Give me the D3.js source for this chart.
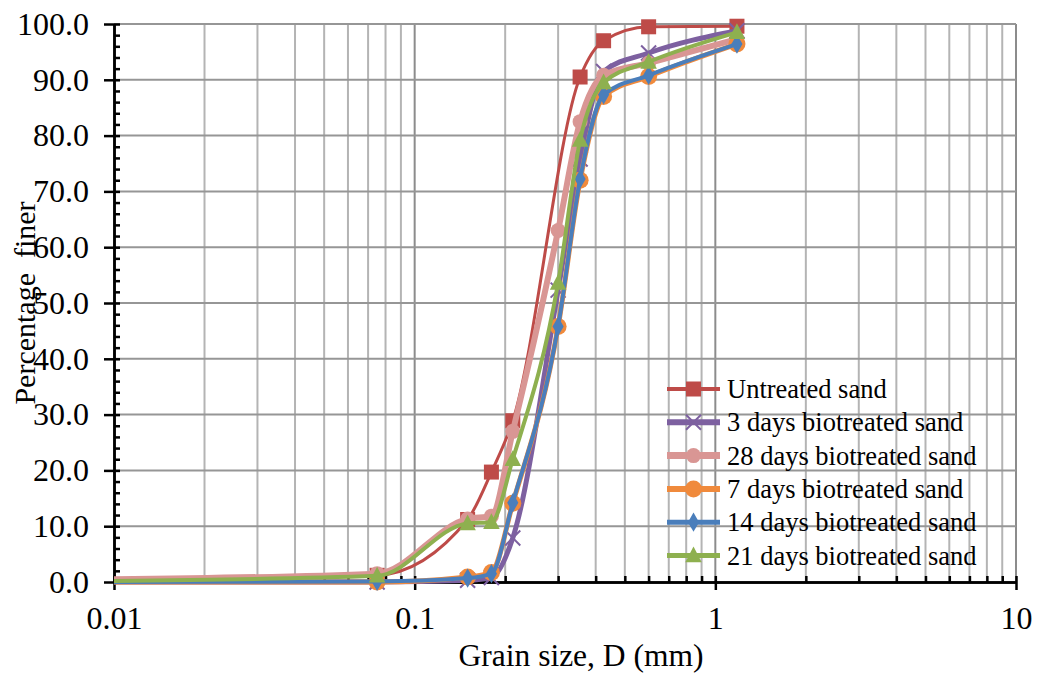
<!DOCTYPE html>
<html>
<head>
<meta charset="utf-8">
<script src="https://cdn.jsdelivr.net/npm/d3@7"></script>
<style>
body {margin:0; background:white;}
text {font-family:"Liberation Serif","Times New Roman",serif; fill:black;}
</style>
</head>
<body>
<svg></svg>
<script>
var screen = {width:1037,height:675}
var margins = {top:24,right:21,bottom:93,left:114}

// sieve sizes (mm), first one is the reading at the left edge (no marker)
var sizes = [0.01,0.075,0.15,0.18,0.212,0.3,0.355,0.425,0.6,1.18]

var untreated = [0.3,1.2,11.2,19.7,28.9,null,90.5,97.0,99.5,99.6]
var days3  = [0.0,0.0,0.3,0.8,7.9,52.3,75.8,91.5,94.8,98.8]
var days28 = [0.5,1.5,11.3,11.8,27.0,63.0,82.5,90.8,93.0,97.3]
var days7  = [0.0,0.0,0.9,1.7,14.1,45.8,72.0,87.0,90.6,96.4]
var days14 = [0.0,0.1,0.7,1.5,14.2,45.8,72.2,87.3,90.8,96.4]
var days21 = [0.2,1.1,10.5,10.7,22.0,53.6,79.2,89.5,93.2,98.5]

var seriesNames = ["Untreated sand","3 days biotreated sand","28 days biotreated sand","7 days biotreated sand","14 days biotreated sand","21 days biotreated sand"]
var seriesValues = [untreated,days3,days28,days7,days14,days21]

var yTicks = [0,10,20,30,40,50,60,70,80,90,100]
var xTicks = [0.01,0.1,1,10]
var xTickLabels = ["0.01","0.1","1","10"]

// look of each series, same order as names
var looks = [
    {color:"#BE4B48", width:3,   marker:"square",   size:15},
    {color:"#7D60A0", width:5,   marker:"cross",    size:15},
    {color:"#D99694", width:6,   marker:"circle",   size:15},
    {color:"#F08A3C", width:5,   marker:"circle",   size:17},
    {color:"#4A7EBB", width:4,   marker:"diamond",  size:14},
    {color:"#8EB04F", width:4,   marker:"triangle", size:15}
]

var width = screen.width - margins.left - margins.right
var height = screen.height - margins.top - margins.bottom

var xScale = d3.scaleLog()
    .domain([0.01,10])
    .range([0,width])

var yScale = d3.scaleLinear()
    .domain([0,100])
    .range([height,0])

var svg = d3.select("svg")
    .attr("width",screen.width)
    .attr("height",screen.height)

var graph = svg.append("g")
    .attr("id","graph")
    .attr("transform","translate("+margins.left+","+margins.top+")")

//grid lines
var minorX = []
for (var e = -2; e < 1; e++)
{
    for (var m = 2; m < 10; m++) { minorX.push(m*Math.pow(10,e)) }
}
graph.append("g")
    .selectAll("line")
    .data(minorX)
    .enter()
    .append("line")
    .attr("x1",function(d){return xScale(d)})
    .attr("x2",function(d){return xScale(d)})
    .attr("y1",0)
    .attr("y2",height)
    .attr("stroke","#b4b4b4")
    .attr("stroke-width",2)

graph.append("g")
    .selectAll("line")
    .data(xTicks.slice(1))
    .enter()
    .append("line")
    .attr("x1",function(d){return xScale(d)})
    .attr("x2",function(d){return xScale(d)})
    .attr("y1",0)
    .attr("y2",height)
    .attr("stroke","#8c8c8c")
    .attr("stroke-width",2)

graph.append("g")
    .selectAll("line")
    .data(yTicks.slice(1))
    .enter()
    .append("line")
    .attr("x1",0)
    .attr("x2",width)
    .attr("y1",function(d){return yScale(d)})
    .attr("y2",function(d){return yScale(d)})
    .attr("stroke","#969696")
    .attr("stroke-width",2)

//axes
var yAxis = d3.axisLeft(yScale)
    .tickValues(yTicks)
    .tickFormat(d3.format(".1f"))
    .tickSizeInner(10)
    .tickSizeOuter(0)
    .tickPadding(15)

var yMinor = d3.axisRight(yScale)
    .tickValues(d3.range(0,101,2))
    .tickFormat("")
    .tickSizeInner(6)
    .tickSizeOuter(0)

var xAxis = d3.axisBottom(xScale)
    .tickValues(xTicks)
    .tickFormat(function(d,i){return xTickLabels[i]})
    .tickSizeInner(8)
    .tickSizeOuter(0)
    .tickPadding(16)

var xMinor = d3.axisTop(xScale)
    .tickValues(minorX.concat(xTicks))
    .tickFormat("")
    .tickSizeInner(6)
    .tickSizeOuter(0)

graph.append("g")
    .attr("class","axis")
    .call(yMinor)
graph.append("g")
    .attr("class","axis")
    .call(yAxis)
graph.append("g")
    .attr("class","axis")
    .attr("transform","translate(0,"+height+")")
    .call(xMinor)
graph.append("g")
    .attr("class","axis")
    .attr("transform","translate(0,"+height+")")
    .call(xAxis)

svg.selectAll(".axis path")
    .attr("stroke","black")
    .attr("stroke-width",2.5)
svg.selectAll(".axis line")
    .attr("stroke","black")
    .attr("stroke-width",2.5)
svg.selectAll(".axis text")
    .style("font-size","32px")
    .style("font-family","Liberation Serif")

//titles
svg.append("text")
    .attr("x",581)
    .attr("y",666)
    .attr("text-anchor","middle")
    .style("font-size","31.5px")
    .text("Grain size, D (mm)")

svg.append("text")
    .attr("transform","translate(35,303) rotate(-90)")
    .attr("text-anchor","middle")
    .style("font-size","30px")
    .attr("xml:space","preserve")
    .text("Percentage  finer")

//markers
var drawMarker = function(sel,look)
{
    var s = look.size
    if (look.marker == "square")
    {
        sel.append("rect").attr("x",-s/2).attr("y",-s/2).attr("width",s).attr("height",s)
            .attr("fill",look.color)
    }
    else if (look.marker == "circle")
    {
        sel.append("circle").attr("r",s/2).attr("fill",look.color)
    }
    else if (look.marker == "diamond")
    {
        sel.append("path").attr("d",d3.symbol(d3.symbolDiamond,s*s*0.55)())
            .attr("fill",look.color)
    }
    else if (look.marker == "triangle")
    {
        sel.append("path").attr("d","M0,"+(-s*0.6)+"L"+(s*0.55)+","+(s*0.45)+"L"+(-s*0.55)+","+(s*0.45)+"Z")
            .attr("fill",look.color)
    }
    else if (look.marker == "cross")
    {
        sel.append("path").attr("d","M"+(-s/2)+","+(-s/2)+"L"+(s/2)+","+(s/2)+"M"+(s/2)+","+(-s/2)+"L"+(-s/2)+","+(s/2))
            .attr("stroke",look.color).attr("stroke-width",2).attr("fill","none")
    }
}

//series
var plot = graph.append("g")

var line = d3.line()
    .x(function(d){return xScale(d[0])})
    .y(function(d){return yScale(d[1])})
    .curve(d3.curveMonotoneX)

seriesValues.forEach(function(vals,i)
{
    var pts = sizes.map(function(s,j){return [s,vals[j]]}).filter(function(d){return d[1] != null})
    var look = looks[i]
    var g = plot.append("g")
    g.append("path")
        .datum(pts)
        .attr("d",line)
        .attr("fill","none")
        .attr("stroke",look.color)
        .attr("stroke-width",look.width)
        .attr("stroke-linejoin","round")
    // the edge reading at 0.01 has no marker
    g.selectAll(".pt")
        .data(pts.slice(1))
        .enter()
        .append("g")
        .attr("class","pt")
        .attr("transform",function(d){return "translate("+xScale(d[0])+","+yScale(d[1])+")"})
        .each(function(){drawMarker(d3.select(this),look)})
})

//legend
var legend = svg.append("g")
    .attr("transform","translate(667,389)")

seriesNames.forEach(function(name,i)
{
    var look = looks[i]
    var row = legend.append("g").attr("transform","translate(0,"+(i*33.3)+")")
    row.append("line")
        .attr("x1",0).attr("x2",53).attr("y1",0).attr("y2",0)
        .attr("stroke",look.color)
        .attr("stroke-width",look.width+1)
    var m = row.append("g").attr("transform","translate(26.5,0)")
    drawMarker(m,look)
    row.append("text")
        .attr("x",60)
        .attr("y",9)
        .style("font-size","26.5px")
        .text(name)
})
</script>
</body>
</html>
